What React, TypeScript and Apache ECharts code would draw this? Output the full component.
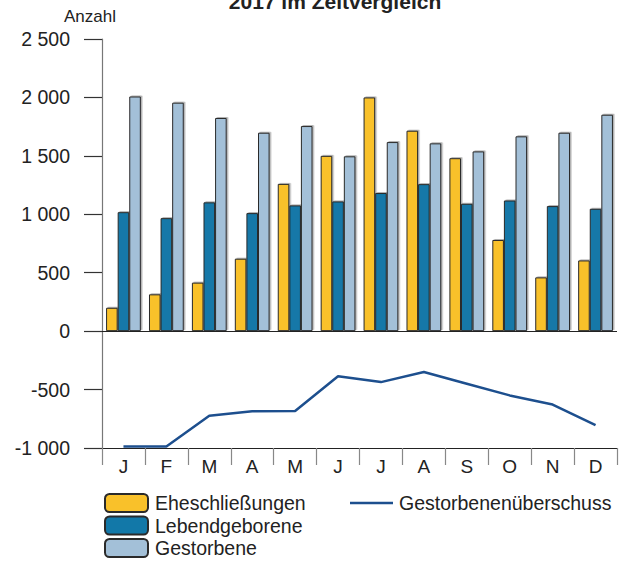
import React, { useEffect, useRef } from "react";
import * as echarts from "echarts";

const months = ["J", "F", "M", "A", "M", "J", "J", "A", "S", "O", "N", "D"];
const eheschliessungen = [200, 315, 415, 620, 1260, 1500, 2000, 1715, 1480, 780, 460, 605];
const lebendgeborene = [1018, 967, 1102, 1010, 1076, 1110, 1182, 1258, 1090, 1118, 1070, 1047];
const gestorbene = [2008, 1955, 1824, 1698, 1755, 1496, 1618, 1607, 1538, 1667, 1698, 1852];
const ueberschuss = [-988, -988, -724, -686, -683, -386, -436, -350, -450, -550, -628, -805];
const yTicks = { min: -1000, max: 2500, interval: 500 };

const FONT = "Liberation Sans, Arial, Helvetica, sans-serif";

function fmt(v: number): string {
  const a = Math.abs(v);
  const s = a >= 1000 ? Math.floor(a / 1000) + " " + String(a % 1000).padStart(3, "0") : String(a);
  return (v < 0 ? "-" : "") + s;
}

export default function App() {
  const ref = useRef<HTMLDivElement>(null);
  useEffect(() => {
    if (!ref.current) return;
    const chart = echarts.init(ref.current, null, { renderer: "svg" });
    const barBorder = {
      borderColor: "#2a2a2a",
      borderWidth: 1,
      shadowColor: "rgba(0,0,0,0.3)",
      shadowOffsetX: 1.5,
      shadowOffsetY: -1,
      shadowBlur: 1,
    };
    const legendText = { fontSize: 19.5, color: "#222", fontFamily: FONT, padding: [0, 0, 0, 2] };
    const barLegend = (name: string, top: number) => ({
      data: [name],
      left: 104,
      top,
      itemWidth: 43,
      itemHeight: 18,
      padding: 0,
      textStyle: legendText,
    });
    chart.setOption({
      animation: false,
      textStyle: { fontFamily: FONT },
      grid: { left: 102, right: 11, top: 39, bottom: 113, containLabel: false },
      graphic: [
        {
          type: "text",
          x: 335,
          y: 12,
          style: {
            text: "2017 im Zeitvergleich",
            font: `bold 21px ${FONT}`,
            fill: "#222",
            textAlign: "center",
            textVerticalAlign: "bottom",
          },
        },
        {
          type: "text",
          left: 64,
          top: 8,
          style: { text: "Anzahl", font: `17px ${FONT}`, fill: "#222" },
        },
      ],
      legend: [
        barLegend("Eheschließungen", 493),
        barLegend("Lebendgeborene", 515.5),
        barLegend("Gestorbene", 538),
        {
          data: [{ name: "Gestorbenenüberschuss", icon: "rect" }],
          left: 350,
          top: 493,
          itemWidth: 43,
          itemHeight: 2.5,
          padding: 0,
          textStyle: { ...legendText, padding: [0, 0, 0, 1], lineHeight: 18 },
        },
      ],
      xAxis: {
        type: "category",
        data: months,
        position: "bottom",
        axisLine: { onZero: false, lineStyle: { color: "#222", width: 1.2 } },
        axisTick: { show: true, length: 17, interval: 0, lineStyle: { color: "#888", width: 1.2 } },
        axisLabel: { fontSize: 19, color: "#222", margin: 9, fontFamily: FONT },
        splitLine: { show: false },
      },
      yAxis: {
        type: "value",
        min: yTicks.min,
        max: yTicks.max,
        interval: yTicks.interval,
        axisLine: { show: true, lineStyle: { color: "#777", width: 1.2 } },
        axisTick: { show: true, length: 18, lineStyle: { color: "#333", width: 1.2 } },
        axisLabel: { fontSize: 19.5, color: "#222", margin: 32, formatter: fmt, fontFamily: FONT },
        splitLine: { show: false },
      },
      series: [
        {
          name: "Eheschließungen",
          type: "bar",
          data: eheschliessungen,
          barGap: "0%",
          barCategoryGap: "19%",
          itemStyle: { color: "#F9C12A", ...barBorder },
          markLine: {
            silent: true,
            symbol: "none",
            label: { show: false },
            lineStyle: { color: "#222", width: 1.2, type: "solid" },
            data: [{ yAxis: 0 }],
          },
        },
        {
          name: "Lebendgeborene",
          type: "bar",
          data: lebendgeborene,
          barGap: "0%",
          barCategoryGap: "19%",
          itemStyle: { color: "#1278A8", ...barBorder },
        },
        {
          name: "Gestorbene",
          type: "bar",
          data: gestorbene,
          barGap: "0%",
          barCategoryGap: "19%",
          itemStyle: { color: "#A3C0D8", ...barBorder },
        },
        {
          name: "Gestorbenenüberschuss",
          type: "line",
          data: ueberschuss,
          symbol: "none",
          lineStyle: { color: "#1D4F8E", width: 2.5 },
          itemStyle: { color: "#1D4F8E" },
        },
      ],
    });
    return () => chart.dispose();
  }, []);
  return <div ref={ref} style={{ width: 628, height: 561, position: "absolute", left: 0, top: 0 }} />;
}
